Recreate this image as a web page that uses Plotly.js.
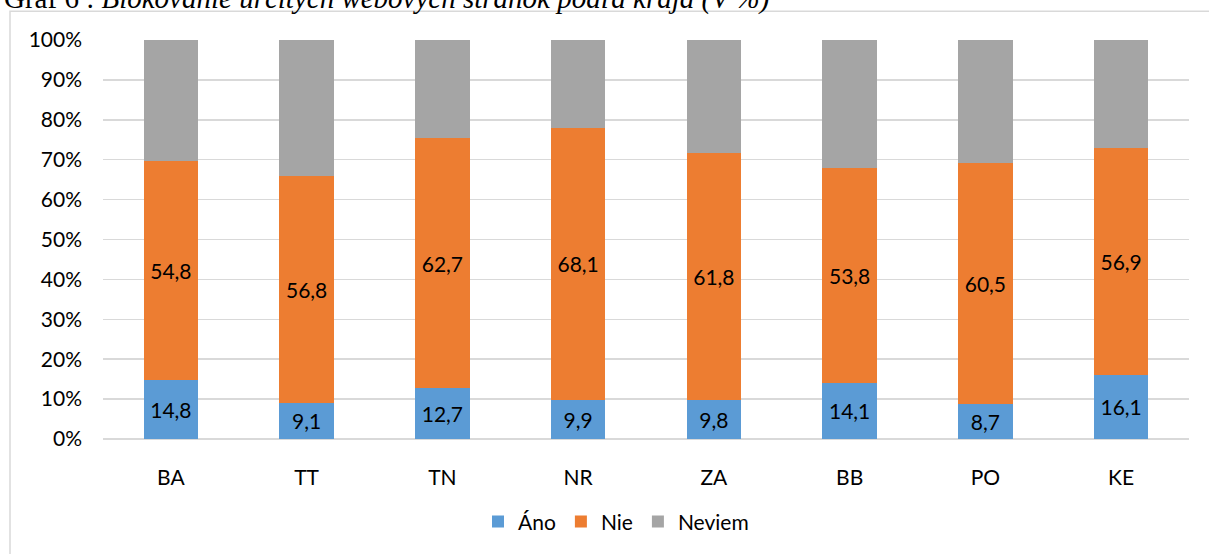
<!DOCTYPE html>
<html>
<head>
<meta charset="utf-8">
<script src="https://cdn.plot.ly/plotly-3.0.1.min.js"></script>
<style>
  html, body { margin: 0; padding: 0; background: #fff; }
  #chart { width: 1209px; height: 554px; }
</style>
</head>
<body>
<div id="chart"></div>
<script>
const categories = ['BA', 'TT', 'TN', 'NR', 'ZA', 'BB', 'PO', 'KE'];
const ano    = [14.8, 9.1, 12.7, 9.9, 9.8, 14.1, 8.7, 16.1];
const nie    = [54.8, 56.8, 62.7, 68.1, 61.8, 53.8, 60.5, 56.9];
const neviem = [30.4, 34.1, 24.6, 22.0, 28.4, 32.1, 30.8, 27.0];
const seriesNames = ['Áno', 'Nie', 'Neviem'];
const titleText = 'Graf 6 : <i>Blokovanie určitých webových stránok podľa kraja (V %)</i>';

const FONT = 'Lato, "Open Sans", sans-serif';
const colors = ['#5b9bd5', '#ed7d31', '#a5a5a5'];

function barTrace(name, vals, color, showLabels) {
  return {
    type: 'bar',
    name: name,
    x: categories,
    y: vals,
    marker: { color: color, line: { width: 0 } },
    texttemplate: showLabels ? '%{y:.1f}' : '',
    textposition: showLabels ? 'inside' : 'none',
    insidetextanchor: 'middle',
    constraintext: 'none',
    textfont: { family: FONT, size: 21, color: '#000' },
    insidetextfont: { family: FONT, size: 21, color: '#000' },
    hoverinfo: 'x+y+name'
  };
}

const data = [
  barTrace(seriesNames[0], ano, colors[0], true),
  barTrace(seriesNames[1], nie, colors[1], true),
  barTrace(seriesNames[2], neviem, colors[2], false)
];

// pixel helpers (plot area: x 103..1189, y 40..444)
const L = 103, R = 1189, T = 40, B = 444;
const px = v => (v - L) / (R - L);
const py = v => (B - v) / (B - T);

const layout = {
  width: 1209,
  height: 554,
  margin: { l: L, r: 1209 - R, t: T, b: 554 - B, pad: 0 },
  paper_bgcolor: '#fff',
  plot_bgcolor: '#fff',
  separators: ', ',
  barmode: 'stack',
  bargap: 0.6,
  font: { family: FONT, size: 21, color: '#000' },
  showlegend: true,
  legend: {
    orientation: 'h',
    traceorder: 'normal',
    x: px(616), xanchor: 'center',
    y: py(528), yanchor: 'middle',
    font: { family: FONT, size: 21, color: '#000' },
    itemwidth: 30,
    bgcolor: 'rgba(0,0,0,0)'
  },
  xaxis: {
    type: 'category',
    showgrid: false,
    showline: false,
    zeroline: false,
    ticks: '',
    ticklabelstandoff: 24,
    tickfont: { family: FONT, size: 21, color: '#000' },
    fixedrange: true
  },
  yaxis: {
    range: [0, 100],
    dtick: 10,
    tick0: 0,
    ticksuffix: '%',
    showgrid: true,
    gridcolor: '#d9d9d9',
    gridwidth: 1.5,
    zeroline: true,
    zerolinecolor: '#d9d9d9',
    zerolinewidth: 1.5,
    showline: false,
    ticks: '',
    ticklabelstandoff: 20,
    tickfont: { family: FONT, size: 21, color: '#000' },
    fixedrange: true
  },
  shapes: [{
    type: 'rect',
    xref: 'paper', yref: 'paper',
    x0: px(10), x1: px(1220),
    y0: py(570), y1: py(11),
    line: { color: '#d9d9d9', width: 1.5 },
    fillcolor: 'rgba(0,0,0,0)',
    layer: 'below'
  }],
  annotations: [{
    text: titleText,
    xref: 'paper', yref: 'paper',
    x: px(3), xanchor: 'left',
    y: py(16), yanchor: 'bottom',
    showarrow: false,
    font: { family: '"Liberation Serif", "Times New Roman", serif', size: 29, color: '#000' },
    borderpad: 0
  }]
};

Plotly.newPlot('chart', data, layout, { displayModeBar: false, staticPlot: true });
</script>
</body>
</html>
